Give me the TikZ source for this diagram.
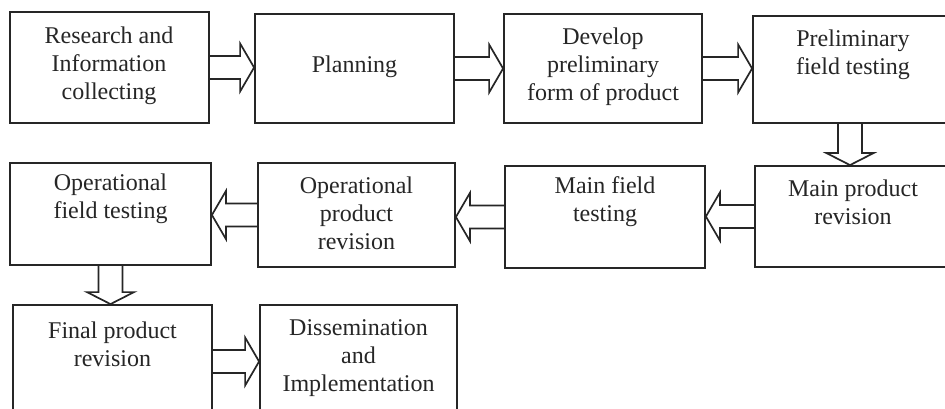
\documentclass[tikz,border=0pt]{standalone}
\usepackage{fontspec}
\setmainfont{Liberation Serif}
\usetikzlibrary{calc}
\definecolor{linec}{HTML}{262626}
\definecolor{textc}{HTML}{262626}
\tikzset{
  box/.style={draw=linec, line width=1.8pt, inner sep=0pt, rectangle},
  lbl/.style={text=textc, align=center, font=\fontsize{24}{28}\selectfont, inner sep=0pt},
  blk/.style={draw=linec, line width=1.7pt, line join=miter},
}
% horizontal block arrow from #1 to the edge #2 (at the height of #1)
\newcommand{\harr}[2]{\draw[blk] let \p1=(#1), \p2=(#2 |- #1), \n1={ifthenelse(\x2>\x1,14,-14)} in
  (\x1,\y1+11.5) -- (\x2-\n1,\y1+11.5) -- (\x2-\n1,\y1+24) -- (\x2,\y1) -- (\x2-\n1,\y1-24) -- (\x2-\n1,\y1-11.5) -- (\x1,\y1-11.5);}
% vertical block arrow from #1 to the edge #2 (at the x of #1)
\newcommand{\varr}[2]{\draw[blk] let \p1=(#1), \p2=(#1 |- #2), \n1={ifthenelse(\y2>\y1,12,-12)} in
  (\x1-12,\y1) -- (\x1-12,\y2-\n1) -- (\x1-23.5,\y2-\n1) -- (\x1,\y2) -- (\x1+23.5,\y2-\n1) -- (\x1+12,\y2-\n1) -- (\x1+12,\y1);}
\begin{document}
\begin{tikzpicture}[x=1pt, y=-1pt]
\useasboundingbox (0,0) rectangle (945,409);
\clip (0,0) rectangle (945,409);
\fill[white] (0,0) rectangle (945,409);
% row 1
\node[box, minimum width=199pt, minimum height=111pt] (b1) at (109.5,67.5) {};
\node[box, minimum width=199pt, minimum height=109pt] (b2) at (354.5,68.5) {};
\node[box, minimum width=198pt, minimum height=109pt] (b3) at (603,68.5) {};
\node[box, minimum width=194pt, minimum height=107pt] (b4) at (850,69.5) {};
% row 2
\node[box, minimum width=201pt, minimum height=102pt] (c1) at (110.5,214) {};
\node[box, minimum width=197pt, minimum height=104pt] (c2) at (356.5,215) {};
\node[box, minimum width=200pt, minimum height=102pt] (c3) at (605,217) {};
\node[box, minimum width=192pt, minimum height=101pt] (c4) at (851,216.5) {};
% row 3
\node[box, minimum width=199pt, minimum height=113pt] (d1) at (112.5,361.5) {};
\node[box, minimum width=197pt, minimum height=113pt] (d2) at (358.5,361.5) {};
% labels
\node[lbl] (t1) at (109,66) {Research and\\Information\\collecting};
\node[lbl] (t2) at (354.5,67) {Planning};
\node[lbl] (t3) at (603,67) {Develop\\preliminary\\form of product};
\node[lbl] (t4) at (853,55) {Preliminary\\field testing};
\node[lbl] (u1) at (110.5,199) {Operational\\field testing};
\node[lbl] (u2) at (356.5,213) {Operational\\product\\revision};
\node[lbl] (u3) at (605,202) {Main field\\testing};
\node[lbl] (u4) at (853,202) {Main product\\revision};
\node[lbl] (v1) at (112.5,344) {Final product\\revision};
\node[lbl] (v2) at (358.5,358) {Dissemination\\and\\Implementation};
% arrows
\harr{b1.east}{b2.west}
\harr{b2.east}{b3.west}
\harr{b3.east}{b4.west}
\varr{b4.south}{c4.north}
\harr{c4.west}{c3.east}
\harr{c3.west}{c2.east}
\harr{c2.west}{c1.east}
\varr{c1.south}{d1.north}
\harr{d1.east}{d2.west}
\end{tikzpicture}
\end{document}
